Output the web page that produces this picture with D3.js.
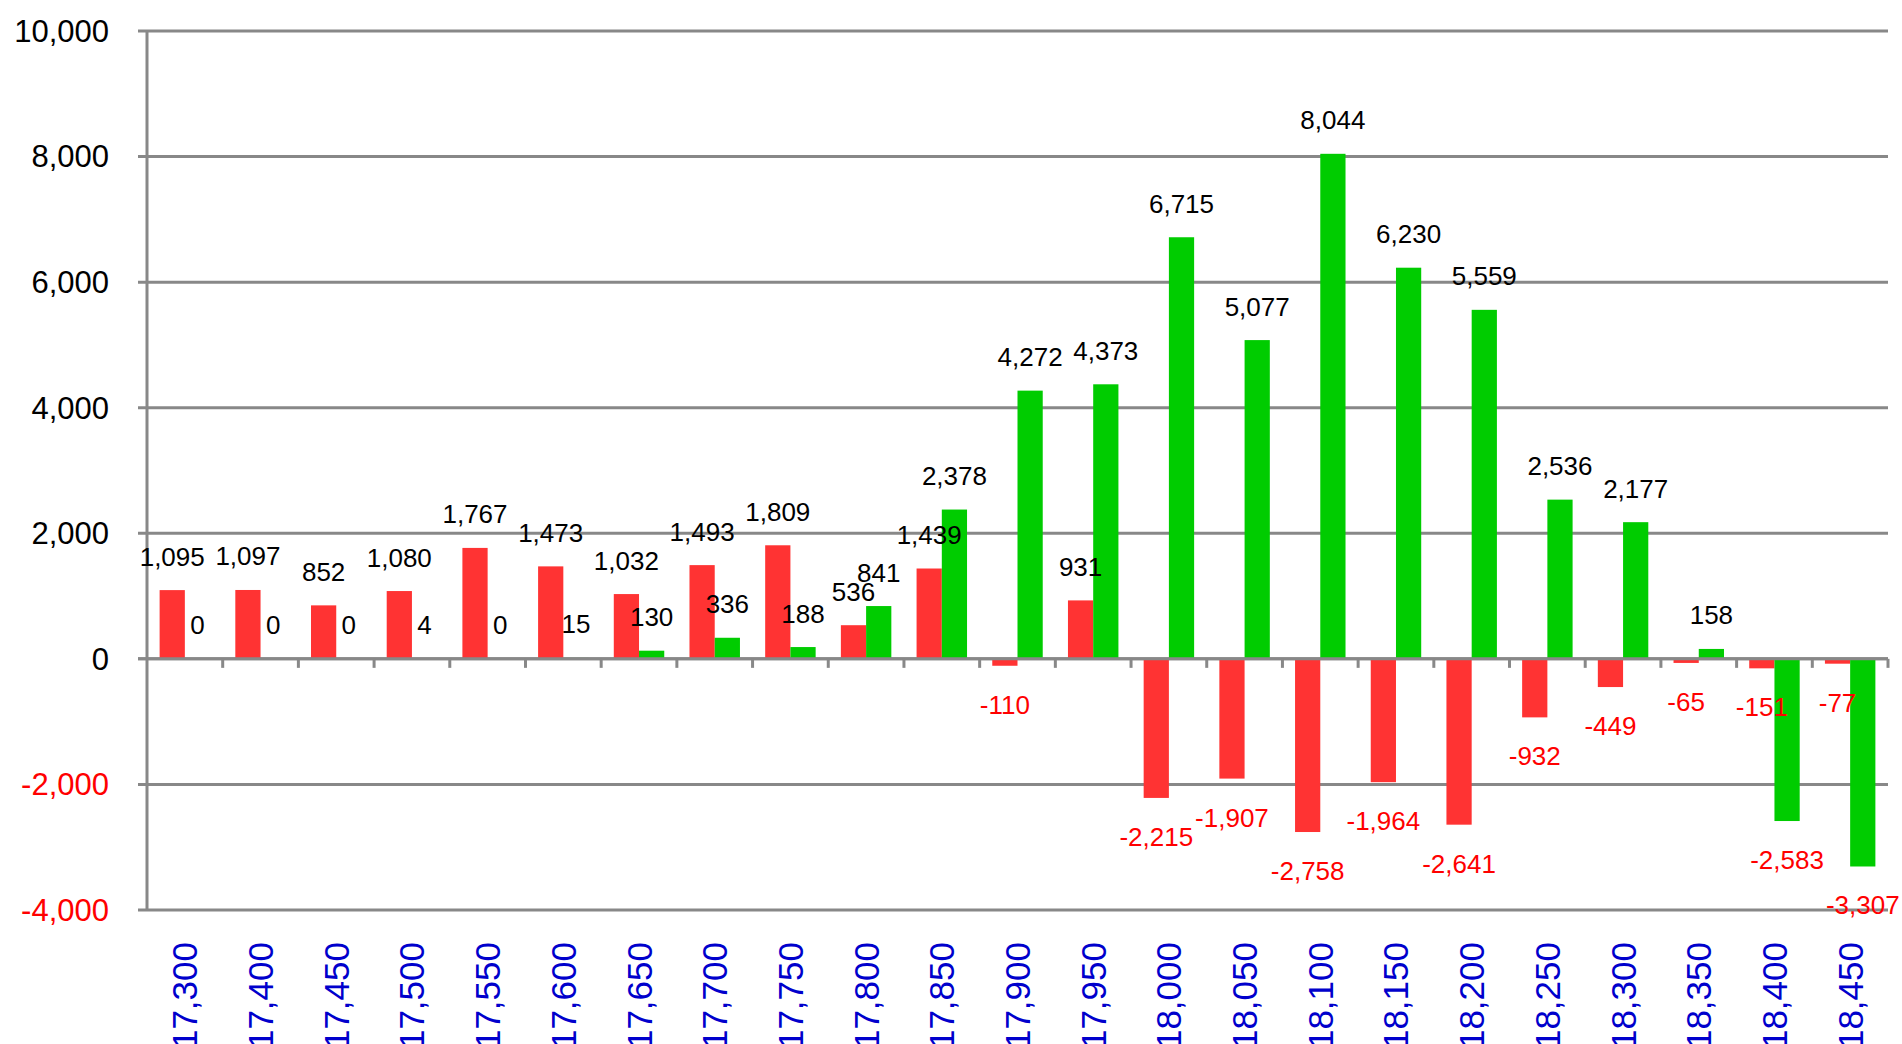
<!DOCTYPE html>
<html lang="en">
<head>
    <meta charset="UTF-8">
    <title>Strike Chart</title>
    <script src="https://cdnjs.cloudflare.com/ajax/libs/d3/7.8.5/d3.min.js"></script>
    <style>
        body { margin: 0; background: #fff; }
        svg { display: block; font-family: "Liberation Sans", Arial, sans-serif; }
    </style>
</head>
<body>
<svg width="1902" height="1044"></svg>

<script>
    const strikes = ["17,300", "17,400", "17,450", "17,500", "17,550", "17,600", "17,650", "17,700",
        "17,750", "17,800", "17,850", "17,900", "17,950", "18,000", "18,050", "18,100", "18,150",
        "18,200", "18,250", "18,300", "18,350", "18,400", "18,450"];
    const redValues = [1095, 1097, 852, 1080, 1767, 1473, 1032, 1493, 1809, 536, 1439, -110, 931,
        -2215, -1907, -2758, -1964, -2641, -932, -449, -65, -151, -77];
    const greenValues = [0, 0, 0, 4, 0, 15, 130, 336, 188, 841, 2378, 4272, 4373, 6715, 5077, 8044,
        6230, 5559, 2536, 2177, 158, -2583, -3307];
    const yTicks = [-4000, -2000, 0, 2000, 4000, 6000, 8000, 10000];

    const svg = d3.select("svg");
    const plotLeft = 147, plotRight = 1888, plotTop = 31, plotBottom = 910;
    const fmt = d3.formatLocale({ decimal: ".", thousands: ",", grouping: [3], currency: ["", ""], minus: "-" }).format(",");

    const x = d3.scaleBand().domain(strikes).range([plotLeft, plotRight]).padding(0);
    const sub = d3.scaleBand().domain(["red", "green"]).range([0, x.bandwidth()])
        .paddingInner(0).paddingOuter(0.5);
    const y = d3.scaleLinear().domain([-4000, 10000]).range([plotBottom, plotTop]);

    const colors = { red: "#ff3333", green: "#00cc00" };
    const lineColor = "#888888";

    // grid lines
    svg.append("g")
        .selectAll("line")
        .data(yTicks)
        .enter()
        .append("line")
        .attr("x1", plotLeft - 9)
        .attr("x2", plotRight)
        .attr("y1", d => y(d))
        .attr("y2", d => y(d))
        .attr("stroke", lineColor)
        .attr("stroke-width", 3);

    // y axis line
    svg.append("line")
        .attr("x1", plotLeft).attr("x2", plotLeft)
        .attr("y1", y(10000)).attr("y2", y(-4000))
        .attr("stroke", lineColor)
        .attr("stroke-width", 3);

    // y labels
    svg.append("g")
        .selectAll("text")
        .data(yTicks)
        .enter()
        .append("text")
        .attr("x", 109)
        .attr("y", d => y(d))
        .attr("dy", "0.35em")
        .attr("text-anchor", "end")
        .attr("font-size", 31)
        .attr("fill", d => d < 0 ? "#ff0000" : "#000000")
        .text(d => fmt(d));

    const rows = strikes.map((s, i) => ({ strike: s, red: redValues[i], green: greenValues[i] }));
    const bars = rows.flatMap(r => ["red", "green"].map(k => ({ strike: r.strike, key: k, value: r[k] })));

    svg.append("g")
        .selectAll("rect")
        .data(bars)
        .enter()
        .append("rect")
        .attr("x", d => x(d.strike) + sub(d.key))
        .attr("width", sub.bandwidth())
        .attr("y", d => y(Math.max(0, d.value)))
        .attr("height", d => Math.abs(y(d.value) - y(0)))
        .attr("fill", d => colors[d.key]);

    // zero axis + ticks
    svg.append("line")
        .attr("x1", plotLeft - 9).attr("x2", plotRight)
        .attr("y1", y(0)).attr("y2", y(0))
        .attr("stroke", lineColor)
        .attr("stroke-width", 3);

    svg.append("g")
        .selectAll("line")
        .data(strikes)
        .enter()
        .append("line")
        .attr("x1", d => x(d) + x.bandwidth())
        .attr("x2", d => x(d) + x.bandwidth())
        .attr("y1", y(0))
        .attr("y2", y(0) + 9)
        .attr("stroke", lineColor)
        .attr("stroke-width", 3);

    // value labels
    svg.append("g")
        .selectAll("text")
        .data(bars)
        .enter()
        .append("text")
        .attr("x", d => x(d.strike) + sub(d.key) + sub.bandwidth() / 2)
        .attr("y", d => d.value >= 0 ? y(d.value) - 24.5 : y(d.value) + 48)
        .attr("text-anchor", "middle")
        .attr("font-size", 26)
        .attr("fill", d => d.value < 0 ? "#ff0000" : "#000000")
        .text(d => fmt(d.value));

    // x labels
    svg.append("g")
        .selectAll("text")
        .data(strikes)
        .enter()
        .append("text")
        .attr("transform", d => `translate(${x(d) + x.bandwidth() / 2 + 12.5},942) rotate(-90)`)
        .attr("text-anchor", "end")
        .attr("font-size", 35)
        .attr("fill", "#0000cc")
        .text(d => d);
</script>
</body>
</html>
